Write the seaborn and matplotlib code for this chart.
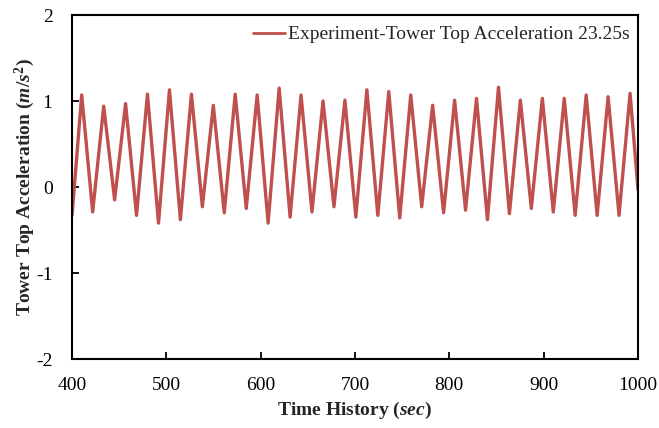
import numpy as np
import pandas as pd
import seaborn as sns
import matplotlib
matplotlib.use("Agg")
import matplotlib.pyplot as plt

# Extrema (time in s, acceleration in m/s^2)
start_time = [400.0]
start_value = [-0.33]
peak_times = [410.3, 433.6, 456.8, 480.0, 503.3, 526.6, 549.8, 573.0, 596.3,
              619.6, 642.8, 666.1, 689.3, 712.6, 735.8, 759.1, 782.3, 805.6,
              828.8, 852.1, 875.3, 898.6, 921.8, 945.1, 968.3, 991.6]
peak_values = [1.07, 0.94, 0.97, 1.08, 1.13, 1.08, 0.95, 1.08, 1.07,
               1.15, 1.07, 1.00, 1.01, 1.13, 1.11, 1.07, 0.95, 1.01,
               1.03, 1.16, 1.01, 1.03, 1.03, 1.07, 1.05, 1.09]
trough_times = [421.9, 445.2, 468.4, 491.7, 514.9, 538.2, 561.4, 584.7,
                607.9, 631.2, 654.4, 677.7, 700.9, 724.2, 747.4, 770.7,
                793.9, 817.2, 840.4, 863.7, 886.9, 910.2, 933.4, 956.7, 979.9]
trough_values = [-0.29, -0.15, -0.33, -0.42, -0.38, -0.23, -0.30, -0.25,
                 -0.42, -0.35, -0.29, -0.23, -0.35, -0.33, -0.36, -0.23,
                 -0.30, -0.27, -0.38, -0.31, -0.25, -0.29, -0.33, -0.33, -0.33]
end_time = [1000.0]
end_value = [-0.03]

legend_label = "Experiment-Tower Top Acceleration 23.25s"
x_ticks = [400, 500, 600, 700, 800, 900, 1000]
y_ticks = [-2, -1, 0, 1, 2]

t = start_time + peak_times + trough_times + end_time
v = start_value + peak_values + trough_values + end_value
df = pd.DataFrame({"time": t, "acc": v}).sort_values("time")
df["series"] = legend_label

sns.set_style("ticks")
plt.rcParams["font.family"] = ["Liberation Serif", "DejaVu Serif"]
plt.rcParams["mathtext.fontset"] = "custom"
plt.rcParams["mathtext.rm"] = "Liberation Serif:bold"
plt.rcParams["mathtext.it"] = "Liberation Serif:bold:italic"
plt.rcParams["mathtext.bf"] = "Liberation Serif:bold"

fig = plt.figure(figsize=(6.59, 4.28), dpi=100)
ax = fig.add_axes([72/659, 1-359/428, (638-72)/659, (359-15)/428])

sns.lineplot(data=df, x="time", y="acc", hue="series", palette=["#C0504D"],
             linewidth=2.4, ax=ax, sort=False)
for ln in ax.get_lines():
    ln.set_solid_joinstyle("round")

ax.set_xlim(400, 1000)
ax.set_ylim(-2, 2)
ax.set_xticks(x_ticks)
ax.set_yticks(y_ticks)
ax.set_xticklabels([str(x) for x in x_ticks], fontsize=14)
ax.set_yticklabels([str(y) for y in y_ticks], fontsize=14)
ax.tick_params(direction="in", length=5, width=1.3, colors="black")
ax.tick_params(axis="x", pad=13)
ax.tick_params(axis="y", pad=14)
for s in ax.spines.values():
    s.set_visible(True)
    s.set_linewidth(1.5)
    s.set_color("black")

ax.set_xlabel(r"Time History ($\mathit{sec}$)", fontsize=14, fontweight="bold", labelpad=4)
ax.set_ylabel(r"Tower Top Acceleration ($\mathit{m/s}^{2}$)", fontsize=14, fontweight="bold", labelpad=-1)

leg = ax.legend(loc="upper right", bbox_to_anchor=(1.0, 0.991), frameon=False,
                fontsize=14, handlelength=1.6, handletextpad=0.2,
                borderaxespad=0.2, borderpad=0.2)
for h in leg.get_lines():
    h.set_linewidth(2.0)

fig.savefig("out.png", dpi=100)
